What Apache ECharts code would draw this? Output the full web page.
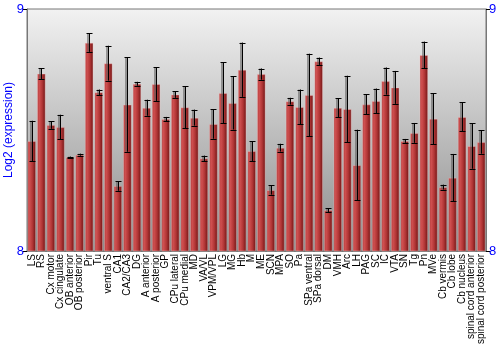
<!DOCTYPE html>
<html>
<head>
<meta charset="utf-8">
<script src="https://cdn.jsdelivr.net/npm/echarts@6/dist/echarts.min.js"></script>
<style>html,body{margin:0;padding:0;background:#fff}#c{width:500px;height:350px}</style>
</head>
<body>
<div id="c"></div>
<script>
var categories = ["LS","RS","Cx motor","Cx cingulate","OB anterior","OB posterior","Pir","Tu","ventral S","CA1","CA2/CA3","DG","A anterior","A posterior","GP","CPu lateral","CPu medial","MD","VA/VL","VPM/VPL","LG","MG","Hb","M","ME","SCN","MPA","SO","Pa","SPa ventral","SPa dorsal","DM","VMH","Arc","LH","PAG","SC","IC","VTA","SN","Tg","Pn","MVe","Cb vermis","Cb lobe","Cb nucleus","spinal cord anterior","spinal cord posterior"];
var values = [8.455,8.733,8.521,8.512,8.388,8.398,8.861,8.656,8.776,8.269,8.605,8.691,8.592,8.690,8.545,8.647,8.594,8.551,8.383,8.525,8.653,8.612,8.749,8.413,8.731,8.252,8.427,8.619,8.595,8.645,8.784,8.169,8.592,8.587,8.355,8.606,8.620,8.702,8.676,8.455,8.488,8.810,8.547,8.264,8.303,8.554,8.434,8.450];
var errors = [0.083,0.022,0.016,0.051,0.002,0.004,0.038,0.011,0.072,0.020,0.195,0.008,0.033,0.070,0.009,0.014,0.087,0.033,0.011,0.061,0.126,0.110,0.112,0.041,0.023,0.019,0.016,0.014,0.072,0.170,0.015,0.008,0.039,0.137,0.146,0.041,0.051,0.056,0.068,0.008,0.041,0.055,0.105,0.010,0.098,0.060,0.094,0.048];
var yTicks = [8, 9];

var errData = values.map(function(v, i){ return [i, v - errors[i], v + errors[i]]; });
var chart = echarts.init(document.getElementById('c'), null, {renderer:'canvas'});
var blue = '#0000ff';
chart.setOption({
  animation: false,
  grid: {left: 27, right: 14, top: 9, bottom: 99, containLabel:false, outerBoundsMode:'none', show: true, borderColor: '#777', borderWidth: 1,
    backgroundColor: new echarts.graphic.LinearGradient(0,0,0,1,[{offset:0,color:'#f2f2f2'},{offset:1,color:'#8c8c8c'}])},
  xAxis: {type:'category', data: categories,
    axisLine:{lineStyle:{color:'#777'}}, axisTick:{show:false},
    axisLabel:{interval:0, rotate:90, color:'#000', fontSize:10, fontFamily:'Liberation Sans', margin:3, hideOverlap:false}},
  yAxis: [
    {type:'value', min:yTicks[0], max:yTicks[1], interval:1, position:'left',
     name:'Log2 (expression)', nameLocation:'middle', nameGap:12, nameRotate:90, nameMoveOverlap:false,
     nameTextStyle:{color:blue, fontSize:12, fontFamily:'Liberation Sans'},
     axisLine:{show:true, lineStyle:{color:'#777'}}, axisTick:{show:true, length:4, lineStyle:{color:'#000'}},
     splitLine:{show:false},
     axisLabel:{color:blue, fontSize:13, fontFamily:'Liberation Sans', margin:3}},
    {type:'value', min:yTicks[0], max:yTicks[1], interval:1, position:'right',
     axisLine:{show:true, lineStyle:{color:'#777'}}, axisTick:{show:true, length:4, lineStyle:{color:'#000'}},
     splitLine:{show:false},
     axisLabel:{color:blue, fontSize:13, fontFamily:'Liberation Sans', margin:3}}
  ],
  series: [
    {type:'bar', data: values, barCategoryGap:'10%',
     itemStyle:{color: new echarts.graphic.LinearGradient(0,0,1,0,[
        {offset:0,color:'#a83232'},{offset:0.25,color:'#d05050'},{offset:0.6,color:'#b03535'},{offset:1,color:'#6a1212'}]),
        borderColor:'rgba(255,200,200,0.35)', borderWidth:1}},
    {type:'custom', data: errData, z: 10,
     renderItem: function(params, api){
       var x = api.value(0);
       var lo = api.coord([x, api.value(1)]);
       var hi = api.coord([x, api.value(2)]);
       var cx = Math.round(lo[0]) + 0.5;
       var half = 3;
       return {type:'group', children:[
         {type:'line', shape:{x1:cx-1, y1:hi[1], x2:cx-1, y2:lo[1]}, style:{stroke:'rgba(90,90,90,0.55)', lineWidth:3}},
         {type:'line', shape:{x1:cx, y1:hi[1], x2:cx, y2:lo[1]}, style:{stroke:'#000', lineWidth:1}},
         {type:'line', shape:{x1:cx-half, y1:Math.round(hi[1])+0.5, x2:cx+half, y2:Math.round(hi[1])+0.5}, style:{stroke:'#000', lineWidth:1}},
         {type:'line', shape:{x1:cx-half, y1:Math.round(lo[1])+0.5, x2:cx+half, y2:Math.round(lo[1])+0.5}, style:{stroke:'#000', lineWidth:1}}
       ]};
     }}
  ]
});
</script>
</body>
</html>
